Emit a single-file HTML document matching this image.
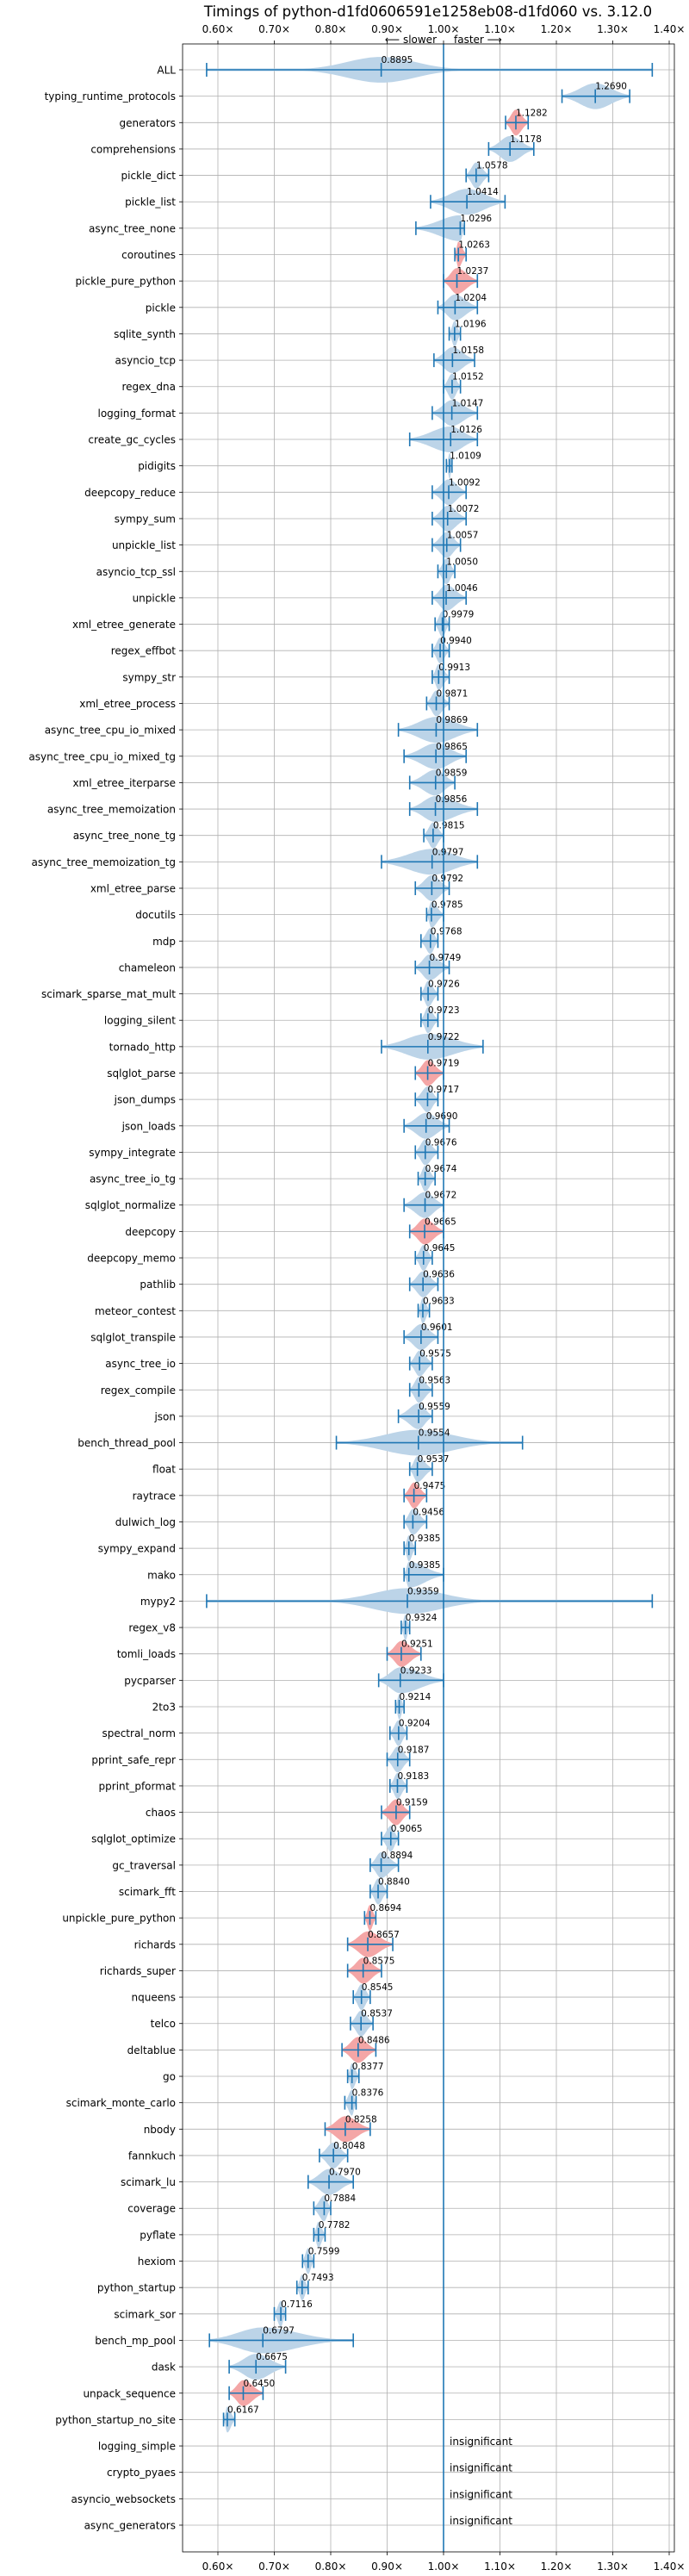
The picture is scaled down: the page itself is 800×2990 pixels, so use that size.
<!DOCTYPE html>
<html><head><meta charset="utf-8"><style>
html,body{margin:0;padding:0;background:#fff;}
svg{display:block;font-family:"DejaVu Sans","Liberation Sans",sans-serif;}
</style></head><body>
<svg id="chart" width="800" height="2990" viewBox="0 0 800 2990" xmlns="http://www.w3.org/2000/svg">
<g id="grid"></g>
<g id="violins"></g>
<g id="axes"></g>
</svg>
<script>
const benchmarks = ["ALL","typing_runtime_protocols","generators","comprehensions","pickle_dict","pickle_list","async_tree_none","coroutines","pickle_pure_python","pickle","sqlite_synth","asyncio_tcp","regex_dna","logging_format","create_gc_cycles","pidigits","deepcopy_reduce","sympy_sum","unpickle_list","asyncio_tcp_ssl","unpickle","xml_etree_generate","regex_effbot","sympy_str","xml_etree_process","async_tree_cpu_io_mixed","async_tree_cpu_io_mixed_tg","xml_etree_iterparse","async_tree_memoization","async_tree_none_tg","async_tree_memoization_tg","xml_etree_parse","docutils","mdp","chameleon","scimark_sparse_mat_mult","logging_silent","tornado_http","sqlglot_parse","json_dumps","json_loads","sympy_integrate","async_tree_io_tg","sqlglot_normalize","deepcopy","deepcopy_memo","pathlib","meteor_contest","sqlglot_transpile","async_tree_io","regex_compile","json","bench_thread_pool","float","raytrace","dulwich_log","sympy_expand","mako","mypy2","regex_v8","tomli_loads","pycparser","2to3","spectral_norm","pprint_safe_repr","pprint_pformat","chaos","sqlglot_optimize","gc_traversal","scimark_fft","unpickle_pure_python","richards","richards_super","nqueens","telco","deltablue","go","scimark_monte_carlo","nbody","fannkuch","scimark_lu","coverage","pyflate","hexiom","python_startup","scimark_sor","bench_mp_pool","dask","unpack_sequence","python_startup_no_site","logging_simple","crypto_pyaes","asyncio_websockets","async_generators"];
const medians = [0.8895,1.2690,1.1282,1.1178,1.0578,1.0414,1.0296,1.0263,1.0237,1.0204,1.0196,1.0158,1.0152,1.0147,1.0126,1.0109,1.0092,1.0072,1.0057,1.0050,1.0046,0.9979,0.9940,0.9913,0.9871,0.9869,0.9865,0.9859,0.9856,0.9815,0.9797,0.9792,0.9785,0.9768,0.9749,0.9726,0.9723,0.9722,0.9719,0.9717,0.9690,0.9676,0.9674,0.9672,0.9665,0.9645,0.9636,0.9633,0.9601,0.9575,0.9563,0.9559,0.9554,0.9537,0.9475,0.9456,0.9385,0.9385,0.9359,0.9324,0.9251,0.9233,0.9214,0.9204,0.9187,0.9183,0.9159,0.9065,0.8894,0.8840,0.8694,0.8657,0.8575,0.8545,0.8537,0.8486,0.8377,0.8376,0.8258,0.8048,0.7970,0.7884,0.7782,0.7599,0.7493,0.7116,0.6797,0.6675,0.6450,0.6167,null,null,null,null];
const mins = [0.58,1.21,1.11,1.08,1.04,0.977,0.951,1.02,1.00,0.99,1.01,0.983,1.00,0.98,0.94,1.005,0.98,0.98,0.98,0.99,0.98,0.985,0.98,0.98,0.97,0.92,0.93,0.94,0.94,0.965,0.89,0.95,0.97,0.96,0.95,0.96,0.96,0.89,0.95,0.95,0.93,0.95,0.955,0.93,0.94,0.95,0.94,0.955,0.93,0.94,0.94,0.92,0.81,0.94,0.93,0.93,0.93,0.93,0.58,0.925,0.90,0.885,0.915,0.905,0.90,0.905,0.89,0.89,0.87,0.87,0.86,0.83,0.83,0.84,0.835,0.82,0.83,0.825,0.79,0.78,0.76,0.77,0.77,0.75,0.74,0.70,0.585,0.62,0.62,0.61,null,null,null,null];
const maxs = [1.37,1.33,1.15,1.16,1.08,1.109,1.037,1.04,1.06,1.06,1.03,1.055,1.03,1.06,1.06,1.015,1.04,1.04,1.03,1.02,1.04,1.01,1.01,1.01,1.01,1.06,1.04,1.02,1.06,1.00,1.06,1.01,1.00,0.99,1.01,0.99,0.99,1.07,1.00,0.99,1.01,0.99,0.985,1.00,1.00,0.98,0.99,0.975,0.99,0.98,0.98,0.98,1.14,0.98,0.97,0.97,0.95,1.00,1.37,0.94,0.96,1.00,0.93,0.935,0.94,0.935,0.94,0.92,0.92,0.90,0.88,0.91,0.89,0.87,0.875,0.88,0.85,0.845,0.87,0.83,0.84,0.80,0.79,0.77,0.76,0.72,0.84,0.72,0.68,0.63,null,null,null,null];
const slowerFlags = [0,0,1,0,0,0,0,1,1,0,0,0,0,0,0,0,0,0,0,0,0,0,0,0,0,0,0,0,0,0,0,0,0,0,0,0,0,0,1,0,0,0,0,0,1,0,0,0,0,0,0,0,0,0,1,0,0,0,0,0,1,0,0,0,0,0,1,0,0,0,1,1,1,0,0,1,0,0,1,0,0,0,0,0,0,0,0,0,1,0,0,0,0,0];
const xTicks = [0.6,0.7,0.8,0.9,1.0,1.1,1.2,1.3,1.4];
const xTickLabels = ["0.60×","0.70×","0.80×","0.90×","1.00×","1.10×","1.20×","1.30×","1.40×"];

const NS = "http://www.w3.org/2000/svg";
const L = 212, R = 783, T = 51, B = 2962;
function xs(v){ return 253 + (v - 0.6) * 655; }
function ys(i){ return 81 + i * 30.645; }
function mk(tag, attrs, parent){ const e = document.createElementNS(NS, tag); for (const k in attrs) e.setAttribute(k, attrs[k]); parent.appendChild(e); return e; }
const grid = document.getElementById('grid'), vg = document.getElementById('violins'), ax = document.getElementById('axes');

let t = mk('text', {x: 497, y: 19, 'text-anchor': 'middle', 'font-size': 16.5, fill: '#000'}, ax);
t.textContent = 'Timings of python-d1fd0606591e1258eb08-d1fd060 vs. 3.12.0';



xTicks.forEach((v, k) => {
  const x = xs(v);
  const gl = mk('line', {x1: x, x2: x, y1: T, y2: B, stroke: '#b0b0b0', 'stroke-width': 0.8}, grid);
  
  
  mk('line', {x1: x, x2: x, y1: T, y2: T - 4, stroke: '#000', 'stroke-width': 0.8}, ax);
  mk('line', {x1: x, x2: x, y1: B, y2: B + 4, stroke: '#000', 'stroke-width': 0.8}, ax);
  const tt = mk('text', {x: x, y: 38, 'text-anchor': 'middle', 'font-size': 12, fill: '#000'}, ax);
  tt.textContent = xTickLabels[k];
  
  
  const tb = mk('text', {x: x, y: 2983, 'text-anchor': 'middle', 'font-size': 12, fill: '#000'}, ax);
  tb.textContent = xTickLabels[k];
  
  
});
let sl = mk('text', {x: 507, y: 50, 'text-anchor': 'end', 'font-size': 12, fill: '#000'}, ax);
sl.textContent = '⟵ slower';


let fa = mk('text', {x: 527, y: 50, 'text-anchor': 'start', 'font-size': 12, fill: '#000'}, ax);
fa.textContent = 'faster ⟶';



benchmarks.forEach((name, i) => {
  const y = ys(i);
  const hl = mk('line', {x1: L, x2: R, y1: y, y2: y, stroke: '#b0b0b0', 'stroke-width': 0.8}, grid);
  
  
  mk('line', {x1: L - 4, x2: L, y1: y, y2: y, stroke: '#000', 'stroke-width': 0.8}, ax);
  const lab = mk('text', {x: 204, y: y + 4.5, 'text-anchor': 'end', 'font-size': 12, fill: '#000'}, ax);
  lab.textContent = name;
  
  

  const m = medians[i];
  if (m === null) {
    const ins = mk('text', {x: xs(1.0) + 7, y: y - 1, 'font-size': 12, fill: '#000'}, vg);
    ins.textContent = 'insignificant';
    
    
    return;
  }
  const lo = mins[i], hi = maxs[i];
  const sL = Math.min(Math.max((m - lo) / 2.2, 0.002), 0.06), sR = Math.min(Math.max((hi - m) / 2.2, 0.002), 0.06);
  const top = [], bot = [];
  const N = 60;
  for (let k = 0; k <= N; k++) {
    const v = lo + (hi - lo) * k / N;
    const s = v < m ? sL : sR;
    const d = Math.exp(-0.5 * Math.pow((v - m) / s, 2));
    const h = 15 * Math.max(d, 0.1);
    top.push(xs(v).toFixed(1) + ',' + (y - h).toFixed(1));
    bot.unshift(xs(v).toFixed(1) + ',' + (y + h).toFixed(1));
  }
  const body = mk('polygon', {points: top.concat(bot).join(' '), fill: slowerFlags[i] ? '#f4a6a6' : '#bcd4e8', stroke: 'none'}, vg);
  
  
  const c = '#1f77b4';
  mk('line', {x1: xs(lo), x2: xs(hi), y1: y, y2: y, stroke: c, 'stroke-width': 1.6}, vg);
  [lo, hi, m].forEach(v => mk('line', {x1: xs(v), x2: xs(v), y1: y - 8, y2: y + 8, stroke: c, 'stroke-width': 1.6}, vg));
  const vl = mk('text', {x: xs(m), y: y - 8, 'font-size': 10.5, fill: '#000'}, vg);
  vl.textContent = m.toFixed(4);
  
  
});

const ref = mk('line', {x1: xs(1.0), x2: xs(1.0), y1: T, y2: B, stroke: '#1f77b4', 'stroke-width': 1.6}, vg);



const frame = mk('rect', {x: L, y: T, width: R - L, height: B - T, fill: 'none', stroke: '#000', 'stroke-width': 0.8}, ax);


</script>
</body></html>
